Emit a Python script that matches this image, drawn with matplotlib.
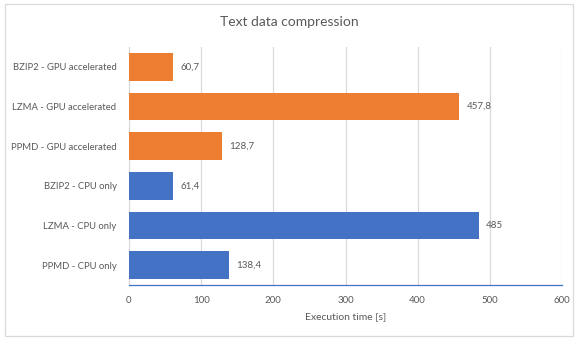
import matplotlib.pyplot as plt
from matplotlib.patches import Rectangle

plt.rcParams['font.family'] = ['Lato', 'DejaVu Sans']

categories = ['BZIP2 - GPU accelerated', 'LZMA - GPU accelerated', 'PPMD - GPU accelerated',
              'BZIP2 - CPU only', 'LZMA - CPU only', 'PPMD - CPU only']
times = [60.7, 457.8, 128.7, 61.4, 485, 138.4]
colors = ['#ED7D31'] * 3 + ['#4472C4'] * 3

txt = '#595959'

fig = plt.figure(figsize=(5.78, 3.38), dpi=100)
ax = fig.add_axes([129 / 578, 1 - 285 / 338, (562 - 129) / 578, (285 - 47) / 338])

ypos = list(range(len(categories)))
ax.barh(ypos, times, height=0.7, color=colors, zorder=3)
ax.set_ylim(len(categories) - 0.5, -0.5)
ax.set_yticks(ypos)
ax.set_yticklabels(categories, fontsize=6.8, color=txt)

for y, v in zip(ypos, times):
    label = f'{v:g}'.replace('.', ',')
    ax.text(v + 10, y, label, va='center', ha='left', fontsize=7, color=txt)

ax.set_xlim(0, 600)
ax.set_xticks(range(0, 601, 100))
ax.tick_params(axis='x', labelsize=7, colors=txt, length=0, pad=8)
ax.tick_params(axis='y', length=0, pad=9)
ax.grid(axis='x', color='#D9D9D9', linewidth=0.9, zorder=0)
ax.set_xlabel('Execution time [s]', fontsize=7.5, color=txt, labelpad=5)

for s in ['top', 'right']:
    ax.spines[s].set_visible(False)
ax.spines['left'].set_color('#D9D9D9')
ax.spines['bottom'].set_color('#4472C4')
ax.spines['bottom'].set_linewidth(0.9)

fig.text(0.5, 1 - 22 / 338, 'Text data compression', ha='center', va='center',
         fontsize=10, color=txt)

fig.patches.append(Rectangle((5 / 578, 2 / 338), 568 / 578, 332 / 338,
                             transform=fig.transFigure, fill=False,
                             edgecolor='#D9D9D9', linewidth=0.9))

fig.savefig('out.png', dpi=100)
